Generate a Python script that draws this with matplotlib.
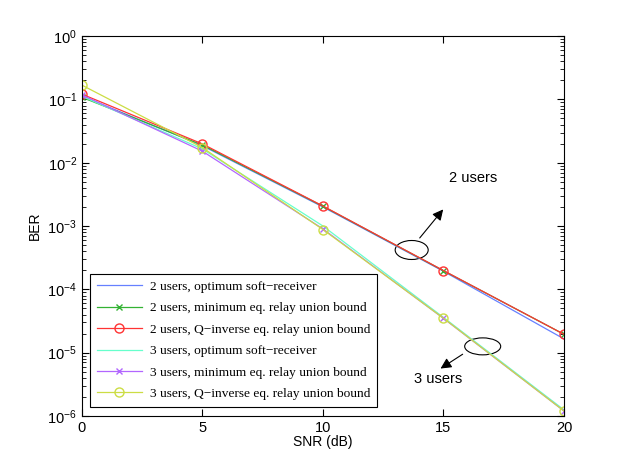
import numpy as np
import matplotlib
matplotlib.use('Agg')
import matplotlib.pyplot as plt
from matplotlib.patches import Ellipse, FancyArrowPatch

snr = [0, 5, 10, 15, 20]

# BER values
ber_2u_opt = [0.113, 0.0185, 2.0e-3, 1.93e-4, 1.65e-5]
ber_2u_min = [0.108, 0.019, 2.05e-3, 1.97e-4, 1.95e-5]
ber_2u_qinv = [0.121, 0.0198, 2.07e-3, 1.98e-4, 1.95e-5]
ber_3u_opt = [0.112, 0.0165, 1.0e-3, 3.6e-5, 1.25e-6]
ber_3u_min = [0.118, 0.0152, 9.0e-4, 3.48e-5, 1.2e-6]
ber_3u_qinv = [0.168, 0.0173, 8.8e-4, 3.5e-5, 1.2e-6]

labels = ['2 users, optimum soft\u2212receiver',
          '2 users, minimum eq. relay union bound',
          '2 users, Q\u2212inverse eq. relay union bound',
          '3 users, optimum soft\u2212receiver',
          '3 users, minimum eq. relay union bound',
          '3 users, Q\u2212inverse eq. relay union bound']

plt.rcParams['font.family'] = ['Liberation Sans', 'DejaVu Sans']

fig = plt.figure(figsize=(6.23, 4.69), dpi=100)
ax = fig.add_axes([0.1316, 0.113, 0.7737, 0.81])

lw = 0.9
ms = 6.5
ax.semilogy(snr, ber_2u_opt, '-', color='#6680ff', lw=lw, label=labels[0])
ax.semilogy(snr, ber_2u_min, '-x', color='#33b233', lw=lw, ms=5, label=labels[1])
ax.semilogy(snr, ber_2u_qinv, '-o', color='#ff3333', lw=lw, ms=ms, mfc='none', label=labels[2])
ax.semilogy(snr, ber_3u_opt, '-', color='#66ffcc', lw=lw, label=labels[3])
ax.semilogy(snr, ber_3u_min, '-x', color='#b266ff', lw=lw, ms=5, label=labels[4])
ax.semilogy(snr, ber_3u_qinv, '-o', color='#ccdd44', lw=lw, ms=ms, mfc='none', label=labels[5])

ax.set_xlim(0, 20)
ax.set_ylim(1e-6, 1)
ax.set_xticks([0, 5, 10, 15, 20])
ax.tick_params(which='both', direction='in', top=True, right=True, labelsize=10.5)
ax.tick_params(which='major', length=5)
ax.tick_params(which='minor', length=3)
ax.xaxis.offsetText.set_visible(False)
ax.yaxis.offsetText.set_visible(False)
ax.set_xlabel('SNR (dB)', fontsize=10, labelpad=0)
ax.set_ylabel('BER', fontsize=10, labelpad=4)

leg = ax.legend(loc='lower left', bbox_to_anchor=(0.0166, 0.0245), borderaxespad=0,
                prop={'family': 'Liberation Serif', 'size': 9.6}, fancybox=False,
                edgecolor='black', framealpha=1, handlelength=3.4, labelspacing=0.68,
                numpoints=1, handletextpad=0.6, borderpad=0.5)
leg.get_frame().set_linewidth(0.8)

# annotations: ellipses with arrows
ax.add_patch(Ellipse((0.684, 0.437), 0.0685, 0.05, transform=ax.transAxes,
                     fill=False, edgecolor='black', lw=0.8))
ax.add_patch(FancyArrowPatch((0.697, 0.463), (0.753, 0.5495), transform=ax.transAxes,
                             arrowstyle='-|>', color='black', lw=0.8, mutation_scale=16))
ax.text(0.811, 0.626, '2 users', transform=ax.transAxes, ha='center', va='center', fontsize=10.5)

ax.add_patch(Ellipse((0.8313, 0.1833), 0.0747, 0.0447, transform=ax.transAxes,
                     fill=False, edgecolor='black', lw=0.8))
ax.add_patch(FancyArrowPatch((0.7946, 0.1666), (0.739, 0.121), transform=ax.transAxes,
                             arrowstyle='-|>', color='black', lw=0.8, mutation_scale=16))
ax.text(0.7386, 0.097, '3 users', transform=ax.transAxes, ha='center', va='center', fontsize=10.5)

fig.savefig('out.png', dpi=100)
